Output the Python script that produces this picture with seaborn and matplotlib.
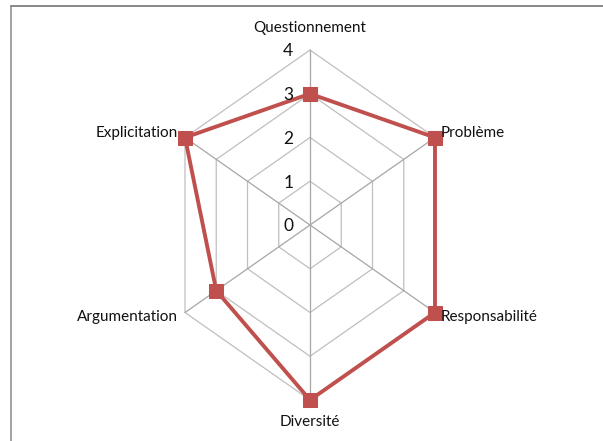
import numpy as np
import pandas as pd
import matplotlib
matplotlib.use('Agg')
import matplotlib.pyplot as plt
import seaborn as sns
from matplotlib.lines import Line2D

# ======================================================
# DATA
# ======================================================
categories = ['Questionnement', 'Problème', 'Responsabilité',
              'Diversité', 'Argumentation', 'Explicitation']
values = [3, 4, 4, 4, 3, 4]
ticks = [0, 1, 2, 3, 4]

sns.set_style('white')
plt.rcParams['font.family'] = ['Lato', 'DejaVu Sans']

# angles measured clockwise from the top
angles = np.arange(len(categories)) * 2 * np.pi / len(categories)

def to_xy(r):
    r = np.asarray(r, dtype=float)
    return r * np.sin(angles), r * np.cos(angles)

fig = plt.figure(figsize=(6.03, 4.41), dpi=100)
ax = fig.add_axes([0, 0, 1, 1])

# hexagon grid rings
for t in ticks[1:]:
    gx, gy = to_xy([t] * len(categories))
    ax.plot(np.append(gx, gx[0]), np.append(gy, gy[0]),
            color='#BFBFBF', linewidth=0.9, zorder=1)

# spokes
ox, oy = to_xy([max(ticks)] * len(categories))
for x1, y1 in zip(ox, oy):
    ax.plot([0, x1], [0, y1], color='#A6A6A6', linewidth=0.9, zorder=1)

# data polygon
px, py = to_xy(values)
df = pd.DataFrame({'x': np.append(px, px[0]), 'y': np.append(py, py[0])})
sns.lineplot(data=df, x='x', y='y', sort=False, estimator=None,
             color='#C0504D', linewidth=2.8, marker='s', markersize=10,
             markeredgecolor='#C0504D', ax=ax, zorder=3)

# horizontally squeezed layout like the original
ax.set_xlim(-8.592, 8.121)
ax.set_ylim(-4.937, 5.143)
ax.axis('off')

# category labels
offsets = [(0, 16, 'center'), (4, 3, 'left'), (4, -3, 'left'),
           (0, -16, 'center'), (-5, -3, 'right'), (-5, 3, 'right')]
for name, x1, y1, (dx, dy, ha) in zip(categories, ox, oy, offsets):
    ax.annotate(name, (x1, y1), xytext=(dx, dy), textcoords='offset points',
                ha=ha, va='center', fontsize=11, color='#111111')

# radial tick labels
for t in ticks:
    ax.annotate(str(t), (0, t), xytext=(-12, -1), textcoords='offset points',
                ha='right', va='center', fontsize=12.5, color='#111111')

# frame lines (top and left)
fig.add_artist(Line2D([11 / 603, 1], [1 - 5.5 / 441] * 2,
                      transform=fig.transFigure, color='#888888', linewidth=1.4))
fig.add_artist(Line2D([11 / 603] * 2, [0, 1 - 5.5 / 441],
                      transform=fig.transFigure, color='#888888', linewidth=1.1))

fig.savefig('out.png', dpi=100)
